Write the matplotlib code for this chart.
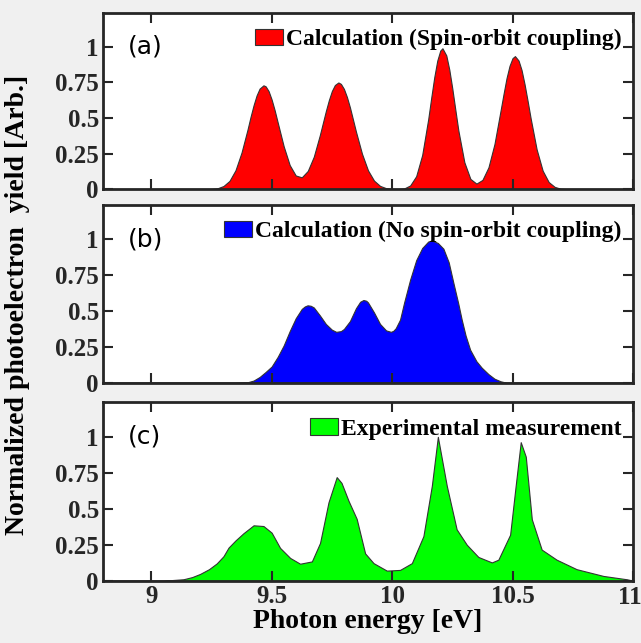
import matplotlib
matplotlib.use('Agg')
import matplotlib.pyplot as plt
from matplotlib.patches import Patch

# Panel (a): calculation with spin-orbit coupling
energy_a = [8.8, 9.15, 9.2, 9.225, 9.25, 9.275, 9.3, 9.325, 9.35, 9.375, 9.4, 9.4125, 9.425,
            9.4375, 9.45, 9.466, 9.475, 9.4875, 9.5, 9.5125, 9.525, 9.55, 9.575, 9.6, 9.625,
            9.65, 9.675, 9.7, 9.725, 9.7375, 9.75, 9.7625, 9.777, 9.7875, 9.8, 9.8125, 9.825,
            9.85, 9.875, 9.9, 9.925, 9.95, 9.975, 10.0, 10.025, 10.05, 10.075, 10.1, 10.125,
            10.15, 10.1625, 10.175, 10.1875, 10.2, 10.209, 10.225, 10.2375, 10.25, 10.2625,
            10.275, 10.3, 10.325, 10.35, 10.375, 10.4, 10.425, 10.45, 10.4625, 10.475, 10.4875,
            10.5, 10.51, 10.525, 10.5375, 10.55, 10.5625, 10.575, 10.6, 10.625, 10.65, 10.675,
            10.7, 10.725, 10.75, 11.0]
yield_a = [0, 0, 0, 0.0005, 0.002, 0.007, 0.023, 0.059, 0.134, 0.258, 0.42, 0.509, 0.59,
           0.659, 0.707, 0.73, 0.723, 0.689, 0.63, 0.555, 0.47, 0.302, 0.17, 0.097, 0.084,
           0.129, 0.229, 0.38, 0.549, 0.626, 0.69, 0.732, 0.75, 0.74, 0.705, 0.648, 0.575,
           0.405, 0.25, 0.133, 0.061, 0.024, 0.008, 0.003, 0.002, 0.006, 0.027, 0.092, 0.241,
           0.493, 0.643, 0.786, 0.903, 0.974, 0.99, 0.94, 0.84, 0.707, 0.559,
           0.414, 0.19, 0.073, 0.04, 0.066, 0.154, 0.318, 0.55, 0.668, 0.78, 0.867,
           0.921, 0.935, 0.904, 0.837, 0.737, 0.621, 0.50, 0.281, 0.131, 0.051, 0.017,
           0.004, 0.001, 0, 0]

# Panel (b): calculation without spin-orbit coupling
energy_b = [8.8, 9.35, 9.4, 9.425, 9.45, 9.475, 9.5, 9.525, 9.55, 9.575, 9.6, 9.625, 9.6375,
            9.649, 9.662, 9.675, 9.7, 9.725, 9.75, 9.768, 9.7875, 9.8, 9.825, 9.85, 9.8675,
            9.881, 9.8925, 9.9, 9.925, 9.95, 9.975, 9.995, 10.005, 10.015, 10.033, 10.05,
            10.075, 10.1, 10.125, 10.15, 10.165, 10.19, 10.213, 10.235, 10.254, 10.275, 10.289,
            10.305, 10.324, 10.35, 10.372, 10.4, 10.425, 10.45, 10.475, 11.0]
yield_b = [0, 0, 0.003, 0.015, 0.04, 0.075, 0.113, 0.18, 0.26, 0.36, 0.45, 0.515, 0.532,
           0.54, 0.537, 0.525, 0.47, 0.41, 0.37, 0.355, 0.36, 0.375, 0.43, 0.52, 0.565,
           0.577, 0.572, 0.56, 0.49, 0.41, 0.365, 0.355, 0.362, 0.38, 0.44, 0.56,
           0.72, 0.855, 0.94, 0.985, 0.993, 0.975, 0.935, 0.84, 0.70, 0.55, 0.44,
           0.33, 0.23, 0.15, 0.105, 0.06, 0.028, 0.01, 0, 0]

# Panel (c): experimental measurement
energy_c = [8.8, 9.05, 9.134, 9.17, 9.203, 9.24, 9.272, 9.3, 9.321, 9.35, 9.383, 9.425, 9.466,
            9.5, 9.535, 9.577, 9.618, 9.667, 9.701, 9.736, 9.77, 9.79, 9.819, 9.853, 9.867,
            9.888, 9.923, 9.978, 10.033, 10.082, 10.13, 10.165, 10.19, 10.227, 10.268, 10.31,
            10.358, 10.414, 10.441, 10.49, 10.513, 10.534, 10.555, 10.58, 10.621, 10.683,
            10.766, 10.877, 10.974, 11.0]
yield_c = [0, 0, 0.01, 0.025, 0.047, 0.08, 0.12, 0.17, 0.23, 0.28, 0.33, 0.385, 0.38,
           0.334, 0.228, 0.158, 0.118, 0.134, 0.263, 0.545, 0.72, 0.68, 0.556, 0.43, 0.334,
           0.19, 0.122, 0.07, 0.075, 0.122, 0.31, 0.66, 1.0, 0.66, 0.357, 0.25,
           0.165, 0.127, 0.146, 0.32, 0.66, 0.963, 0.862, 0.427, 0.216, 0.146,
           0.08, 0.033, 0.01, 0]

panels = [
    (energy_a, yield_a, '#ff0000', 'Calculation (Spin-orbit coupling)', '(a)'),
    (energy_b, yield_b, '#0000ff', 'Calculation (No spin-orbit coupling)', '(b)'),
    (energy_c, yield_c, '#00ff00', 'Experimental measurement', '(c)'),
]
x_ticks = [9, 9.5, 10, 10.5, 11]
x_tick_labels = ['9', '9.5', '10', '10.5', '11']
y_ticks = [0, 0.25, 0.5, 0.75, 1]
y_tick_labels = ['0', '0.25', '0.5', '0.75', '1']

serif = 'Liberation Serif'
fig = plt.figure(figsize=(6.41, 6.43), dpi=100, facecolor='#f0f0f0')

boxes = [(0.1607, 0.7056, 0.8268, 0.2747),
         (0.1607, 0.4048, 0.8268, 0.2764),
         (0.1607, 0.0969, 0.8268, 0.2774)]

for i, (x, y, color, label, tag) in enumerate(panels):
    ax = fig.add_axes(boxes[i])
    ax.fill_between(x, y, 0, facecolor=color, edgecolor='#333333', linewidth=0.8)
    ax.set_xlim(8.8, 11)
    ax.set_ylim(0, 1.24)
    ax.set_xticks(x_ticks)
    ax.set_yticks(y_ticks)
    ax.set_yticklabels(y_tick_labels, fontfamily=serif, fontweight='bold', fontsize=18)
    if i == 2:
        # last label is drawn separately, nudged a bit left so it stays inside the figure
        ax.set_xticklabels(x_tick_labels[:-1] + [''], fontfamily=serif, fontweight='bold',
                           fontsize=18)
        ax.annotate(x_tick_labels[-1], xy=(x_ticks[-1], 0), xycoords=('data', 'axes fraction'),
                    xytext=(-2.5, -3.5), textcoords='offset points', ha='center', va='top',
                    fontfamily=serif, fontweight='bold', fontsize=18, color='#262626',
                    annotation_clip=False)
        ax.set_xlabel('Photon energy [eV]', fontfamily=serif, fontweight='bold', fontsize=20,
                      labelpad=1)
    else:
        ax.set_xticklabels([])
    ax.tick_params(direction='in', length=7, width=1.5, top=True, right=True,
                   colors='#262626', pad=3)
    for s in ax.spines.values():
        s.set_linewidth(2)
        s.set_color('#262626')
    ax.text(0.047, 0.806, tag, transform=ax.transAxes, fontsize=18,
            fontfamily='DejaVu Sans', va='center')
    handle = Patch(facecolor=color, edgecolor='#333333', linewidth=0.8)
    ax.legend([handle], [label], loc='upper right', bbox_to_anchor=(1.0, 0.977),
              frameon=False, prop={'family': serif, 'weight': 'bold', 'size': 17},
              handlelength=1.2, handleheight=0.7, handletextpad=0.1,
              borderaxespad=0.3, borderpad=0.2)

fig.text(0.027, 0.525, 'Normalized photoelectron  yield [Arb.]', rotation=90,
         ha='center', va='center', fontfamily=serif, fontweight='bold', fontsize=20)

fig.savefig('out.png', dpi=100, facecolor=fig.get_facecolor())
